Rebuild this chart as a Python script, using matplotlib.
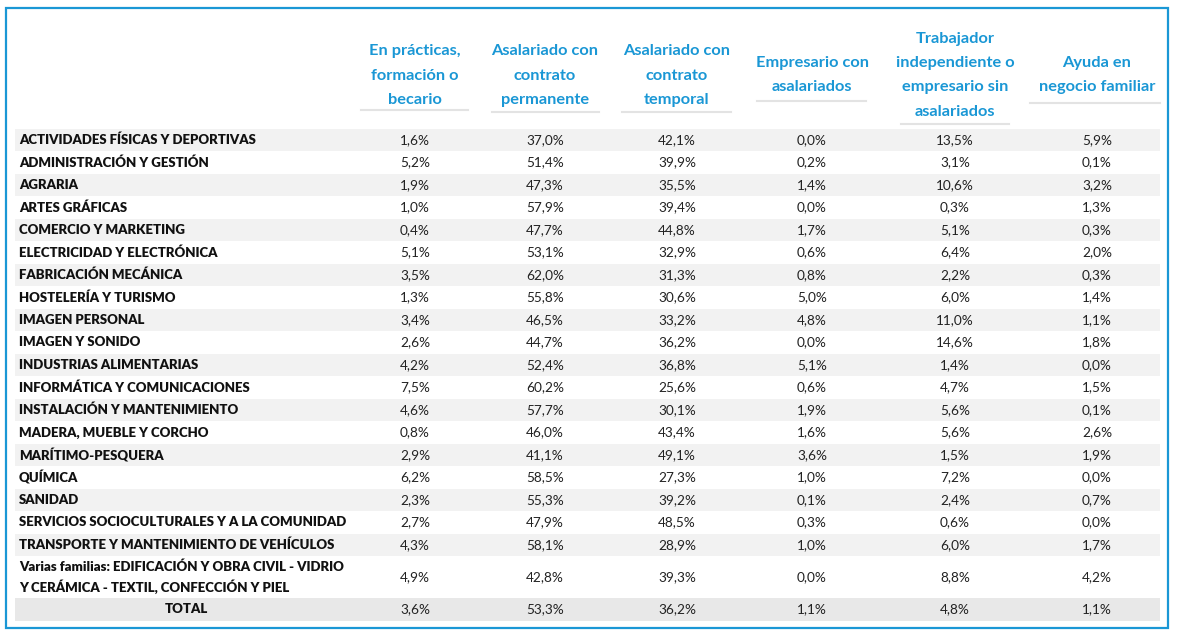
import matplotlib
matplotlib.use('Agg')
import matplotlib.pyplot as plt
from matplotlib.patches import Rectangle

plt.rcParams['font.family'] = ['Lato', 'DejaVu Sans']

headers = [
    'En prácticas,\nformación o\nbecario',
    'Asalariado con\ncontrato\npermanente',
    'Asalariado con\ncontrato\ntemporal',
    'Empresario con\nasalariados',
    'Trabajador\nindependiente o\nempresario sin\nasalariados',
    'Ayuda en\nnegocio familiar',
]

familias = [
    'ACTIVIDADES FÍSICAS Y DEPORTIVAS',
    'ADMINISTRACIÓN Y GESTIÓN',
    'AGRARIA',
    'ARTES GRÁFICAS',
    'COMERCIO Y MARKETING',
    'ELECTRICIDAD Y ELECTRÓNICA',
    'FABRICACIÓN MECÁNICA',
    'HOSTELERÍA Y TURISMO',
    'IMAGEN PERSONAL',
    'IMAGEN Y SONIDO',
    'INDUSTRIAS ALIMENTARIAS',
    'INFORMÁTICA Y COMUNICACIONES',
    'INSTALACIÓN Y MANTENIMIENTO',
    'MADERA, MUEBLE Y CORCHO',
    'MARÍTIMO-PESQUERA',
    'QUÍMICA',
    'SANIDAD',
    'SERVICIOS SOCIOCULTURALES Y A LA COMUNIDAD',
    'TRANSPORTE Y MANTENIMIENTO DE VEHÍCULOS',
    'Varias familias: EDIFICACIÓN Y OBRA CIVIL - VIDRIO\nY CERÁMICA - TEXTIL, CONFECCIÓN Y PIEL',
]

practicas = [1.6, 5.2, 1.9, 1.0, 0.4, 5.1, 3.5, 1.3, 3.4, 2.6, 4.2, 7.5, 4.6, 0.8, 2.9, 6.2, 2.3, 2.7, 4.3, 4.9]
permanente = [37.0, 51.4, 47.3, 57.9, 47.7, 53.1, 62.0, 55.8, 46.5, 44.7, 52.4, 60.2, 57.7, 46.0, 41.1, 58.5, 55.3, 47.9, 58.1, 42.8]
temporal = [42.1, 39.9, 35.5, 39.4, 44.8, 32.9, 31.3, 30.6, 33.2, 36.2, 36.8, 25.6, 30.1, 43.4, 49.1, 27.3, 39.2, 48.5, 28.9, 39.3]
empresario = [0.0, 0.2, 1.4, 0.0, 1.7, 0.6, 0.8, 5.0, 4.8, 0.0, 5.1, 0.6, 1.9, 1.6, 3.6, 1.0, 0.1, 0.3, 1.0, 0.0]
independiente = [13.5, 3.1, 10.6, 0.3, 5.1, 6.4, 2.2, 6.0, 11.0, 14.6, 1.4, 4.7, 5.6, 5.6, 1.5, 7.2, 2.4, 0.6, 6.0, 8.8]
ayuda = [5.9, 0.1, 3.2, 1.3, 0.3, 2.0, 0.3, 1.4, 1.1, 1.8, 0.0, 1.5, 0.1, 2.6, 1.9, 0.0, 0.7, 0.0, 1.7, 4.2]
total = [3.6, 53.3, 36.2, 1.1, 4.8, 1.1]

columnas = [practicas, permanente, temporal, empresario, independiente, ayuda]

BLUE = '#1a97d5'
col_x = [415, 545, 677, 812, 955, 1097]
under = [(361, 468, 110), (492, 599, 112), (622, 731, 112),
         (757, 866, 101), (901, 1009, 124), (1030, 1160, 103)]
head_bottom = [100, 100, 100, 87, 112, 87]


def pct(v):
    return '{:.1f}%'.format(v).replace('.', ',')


fig = plt.figure(figsize=(11.8, 6.37), dpi=100)
ax = fig.add_axes([0, 0, 1, 1])
ax.set_xlim(0, 1180)
ax.set_ylim(637, 0)
ax.axis('off')

# border
ax.add_patch(Rectangle((6, 8), 1162, 620, fill=False, ec=BLUE, lw=1.6))

# headers
for j, h in enumerate(headers):
    lines = h.split('\n')
    n = len(lines)
    for k, ln in enumerate(lines):
        y = head_bottom[j] - (n - 1 - k) * 24.5
        ax.text(col_x[j], y, ln, color=BLUE, fontsize=11.8, fontweight='bold',
                ha='center', va='center')
    x0, x1, yu = under[j]
    ax.plot([x0, x1], [yu, yu], color='#e3e3e3', lw=1.5)

# body rows
row_h = 22.5
fs = 9.8
y = 140
for i, fam in enumerate(familias):
    two = '\n' in fam
    h = 41 if two else row_h
    yc = y if not two else y + (h - row_h) / 2
    if i % 2 == 0:
        ax.add_patch(Rectangle((15, yc - h / 2), 1145, h, color='#f2f2f2', lw=0))
    if two:
        l1, l2 = fam.split('\n')
        ax.text(19, yc - 10, l1, fontsize=9.5, fontweight='heavy', va='center', color='#111111')
        ax.text(19, yc + 10, l2, fontsize=9.5, fontweight='heavy', va='center', color='#111111')
    else:
        ax.text(19, yc, fam, fontsize=9.5, fontweight='heavy', va='center', color='#111111')
    for j, col in enumerate(columnas):
        ax.text(col_x[j], yc, pct(col[i]), fontsize=fs, ha='center', va='center', color='#222222')
    y = yc + h / 2 + row_h / 2 if two else y + row_h

# total row
yt = y + 0.5
ax.add_patch(Rectangle((15, yt - 11.5), 1145, 23, color='#e8e8e8', lw=0))
ax.text(186, yt, 'TOTAL', fontsize=9.5, fontweight='heavy', ha='center', va='center', color='#111111')
for j, v in enumerate(total):
    ax.text(col_x[j], yt, pct(v), fontsize=fs, ha='center', va='center', color='#222222')

fig.savefig('out.png', dpi=100)
